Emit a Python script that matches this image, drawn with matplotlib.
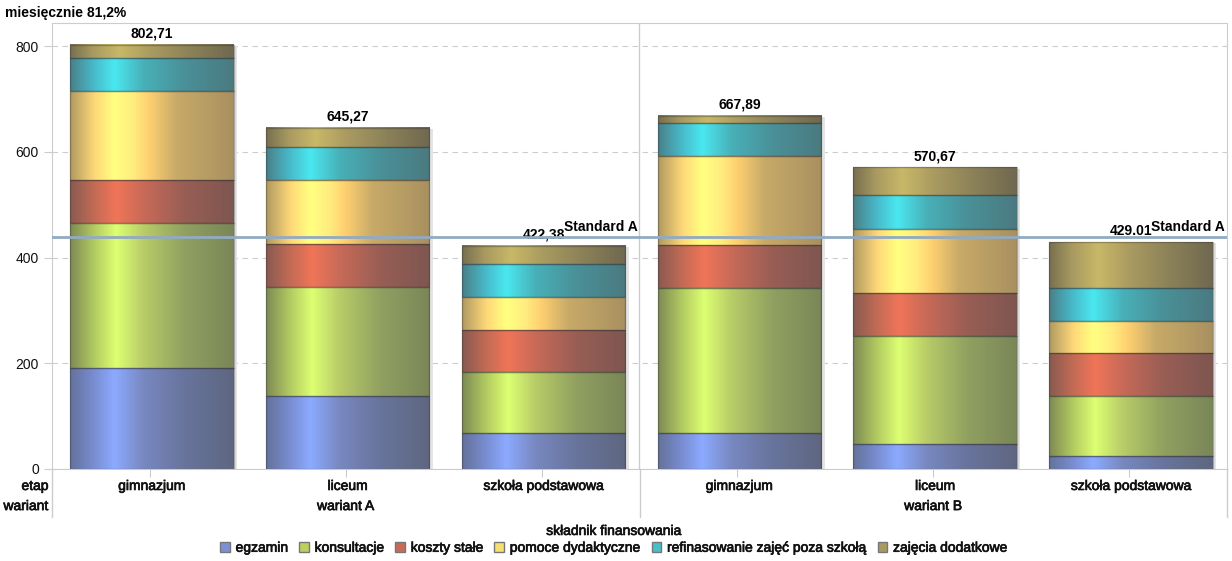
import numpy as np
import matplotlib
matplotlib.use("Agg")
import matplotlib.pyplot as plt
import matplotlib.patheffects as pe
from matplotlib.colors import LinearSegmentedColormap
from matplotlib.patches import Rectangle, Patch
from matplotlib.lines import Line2D
from matplotlib.text import Text

plt.rcParams['font.family'] = ['Liberation Sans', 'DejaVu Sans']

naglowek = 'miesięcznie 81,2%'
warianty = ['wariant A', 'wariant B']
etapy = ['gimnazjum', 'liceum', 'szkoła podstawowa']
skladniki = ['egzamin', 'konsultacje', 'koszty stałe', 'pomoce dydaktyczne',
             'refinasowanie zajęć poza szkołą', 'zajęcia dodatkowe']

# kolejnosc slupkow: A-gimnazjum, A-liceum, A-szkola, B-gimnazjum, B-liceum, B-szkola
egzamin = [192, 138, 68, 68, 47, 24]
konsultacje = [273, 206, 115, 274, 205, 114]
koszty_stale = [82, 82, 81, 82, 81, 81]
pomoce = [168, 121, 61, 168, 122, 62]
refinansowanie = [62, 62, 63, 62, 63, 62]
zajecia = [25.71, 36.27, 34.38, 13.89, 52.67, 86.01]
sumy_etykiety = ['802,71', '645,27', '422,38', '667,89', '570,67', '429.01']
standard_a = 440

seria = [egzamin, konsultacje, koszty_stale, pomoce, refinansowanie, zajecia]

# gradient "cylindra" dla kazdego skladnika
gradienty = [
    [(0, '#65729A'), (0.12, '#7588C8'), (0.27, '#8CAAFF'), (0.45, '#7888C0'), (0.7, '#68749C'), (1, '#5E6680')],
    [(0, '#7E8A55'), (0.14, '#B0C860'), (0.28, '#DDFF72'), (0.45, '#B8CC68'), (0.7, '#90A060'), (1, '#7A8658')],
    [(0, '#885A50'), (0.14, '#C06A55'), (0.28, '#F07558'), (0.45, '#C86A58'), (0.7, '#985E55'), (1, '#7E5650')],
    [(0, '#B09A62'), (0.15, '#FFD878'), (0.27, '#FFFF80'), (0.38, '#FFEE80'), (0.48, '#FFD070'), (0.65, '#C8AA68'), (1, '#A89060')],
    [(0, '#4A8088'), (0.14, '#48B8C8'), (0.27, '#4AE8F0'), (0.45, '#48B0B8'), (0.7, '#4A9098'), (1, '#4A7A80')],
    [(0, '#787050'), (0.14, '#A89A60'), (0.3, '#C8B868'), (0.5, '#A89A60'), (0.75, '#8A8058'), (1, '#706850')],
]
kolory_legendy = ['#7C90D8', '#BCD060', '#C86A58', '#F8E070', '#48C0C8', '#A89A60']

W, H = 1232, 561
fig = plt.figure(figsize=(W / 100, H / 100), dpi=100)
ax = fig.add_axes([52 / W, 1 - 469 / H, 1175 / W, 446.5 / H])

x = np.arange(len(egzamin))
szer = 0.835
ax.set_xlim(-0.5, 5.5)
ax.set_ylim(0, 845)

grad_x = np.linspace(0, 1, 256)
dol = np.zeros(len(x))
for vals, stops in zip(seria, gradienty):
    cmap = LinearSegmentedColormap.from_list('g', stops)
    img = cmap(grad_x)[np.newaxis, :, :3]
    for i, v in enumerate(vals):
        x0, x1 = i + 0.01 - szer / 2, i + 0.01 + szer / 2
        ax.imshow(img, extent=(x0, x1, dol[i], dol[i] + v), aspect='auto',
                  interpolation='bilinear', zorder=2)
        ax.add_patch(Rectangle((x0, dol[i]), szer, v, facecolor='none',
                               edgecolor=(0.2, 0.2, 0.2, 0.35), lw=1, zorder=3))
    dol += np.array(vals)

for i in x:
    ax.add_patch(Rectangle((i + 0.01 + szer / 2, 0), 0.018, dol[i] - 2, facecolor='#e4e4e4',
                           edgecolor='none', zorder=1.5))
    ax.annotate(sumy_etykiety[i], (i + 0.01, dol[i]), xytext=(0, 3), textcoords='offset points',
                ha='center', va='bottom', fontsize=10, fontweight='bold', zorder=4)

ax.set_xlim(-0.5, 5.5)
ax.set_ylim(0, 845)

ax.axhline(standard_a, color='#92AAC2', lw=2, zorder=5)
for xr in (2.49, 5.49):
    ax.annotate('Standard A', (xr, standard_a), xytext=(0, 2), textcoords='offset points',
                ha='right', va='bottom', fontsize=10, fontweight='bold', zorder=6)

ax.axvline(2.5, color='#cccccc', lw=1, zorder=1)
ax.set_axisbelow(True)
ax.yaxis.grid(True, ls=(0, (5, 4)), color='#cccccc', lw=0.8)
for s in ax.spines.values():
    s.set_color('#cccccc')
ax.set_yticks([0, 200, 400, 600, 800])
ax.set_xticks(x)
ax.set_xticklabels([])
ax.tick_params(axis='both', colors='#cccccc', length=6, labelcolor='#111111', labelsize=10)

tr = ax.get_xaxis_transform()
for i in x:
    ax.text(i + 0.01, -0.038, etapy[i % 3], transform=tr, ha='center', va='center', fontsize=10)
for j, w in enumerate(warianty):
    ax.text(1 + 3 * j, -0.083, w, transform=tr, ha='center', va='center', fontsize=10)
ax.text(-0.003, -0.038, 'etap', transform=ax.transAxes, ha='right', va='center', fontsize=10)
ax.text(-0.003, -0.083, 'wariant', transform=ax.transAxes, ha='right', va='center', fontsize=10)
for xa in (0, 0.5, 1):
    ax.add_line(Line2D([xa, xa], [0, -0.1075], transform=ax.transAxes, color='#cccccc',
                       lw=1, clip_on=False))

fig.text(5 / W, 1 - 13 / H, naglowek, ha='left', va='center', fontsize=10, fontweight='bold')

uchwyty = [Patch(facecolor=c, edgecolor='#777777') for c in kolory_legendy]
fig.legend(uchwyty, skladniki, loc='upper center', bbox_to_anchor=(614 / W, 1 - 517 / H),
           ncol=6, frameon=False, title='składnik finansowania', fontsize=10,
           title_fontsize=10, handlelength=0.7, handleheight=0.7, handletextpad=0.4,
           columnspacing=0.8, borderpad=0, labelspacing=0.2)

# tekst w oryginale jest nieco grubszy - lekki obrys
for t in fig.findobj(Text):
    if t.get_text() and t.get_fontweight() != 'bold':
        t.set_color('#111111')
        t.set_path_effects([pe.withStroke(linewidth=0.5, foreground='#111111')])

fig.savefig('out.png', dpi=100)
